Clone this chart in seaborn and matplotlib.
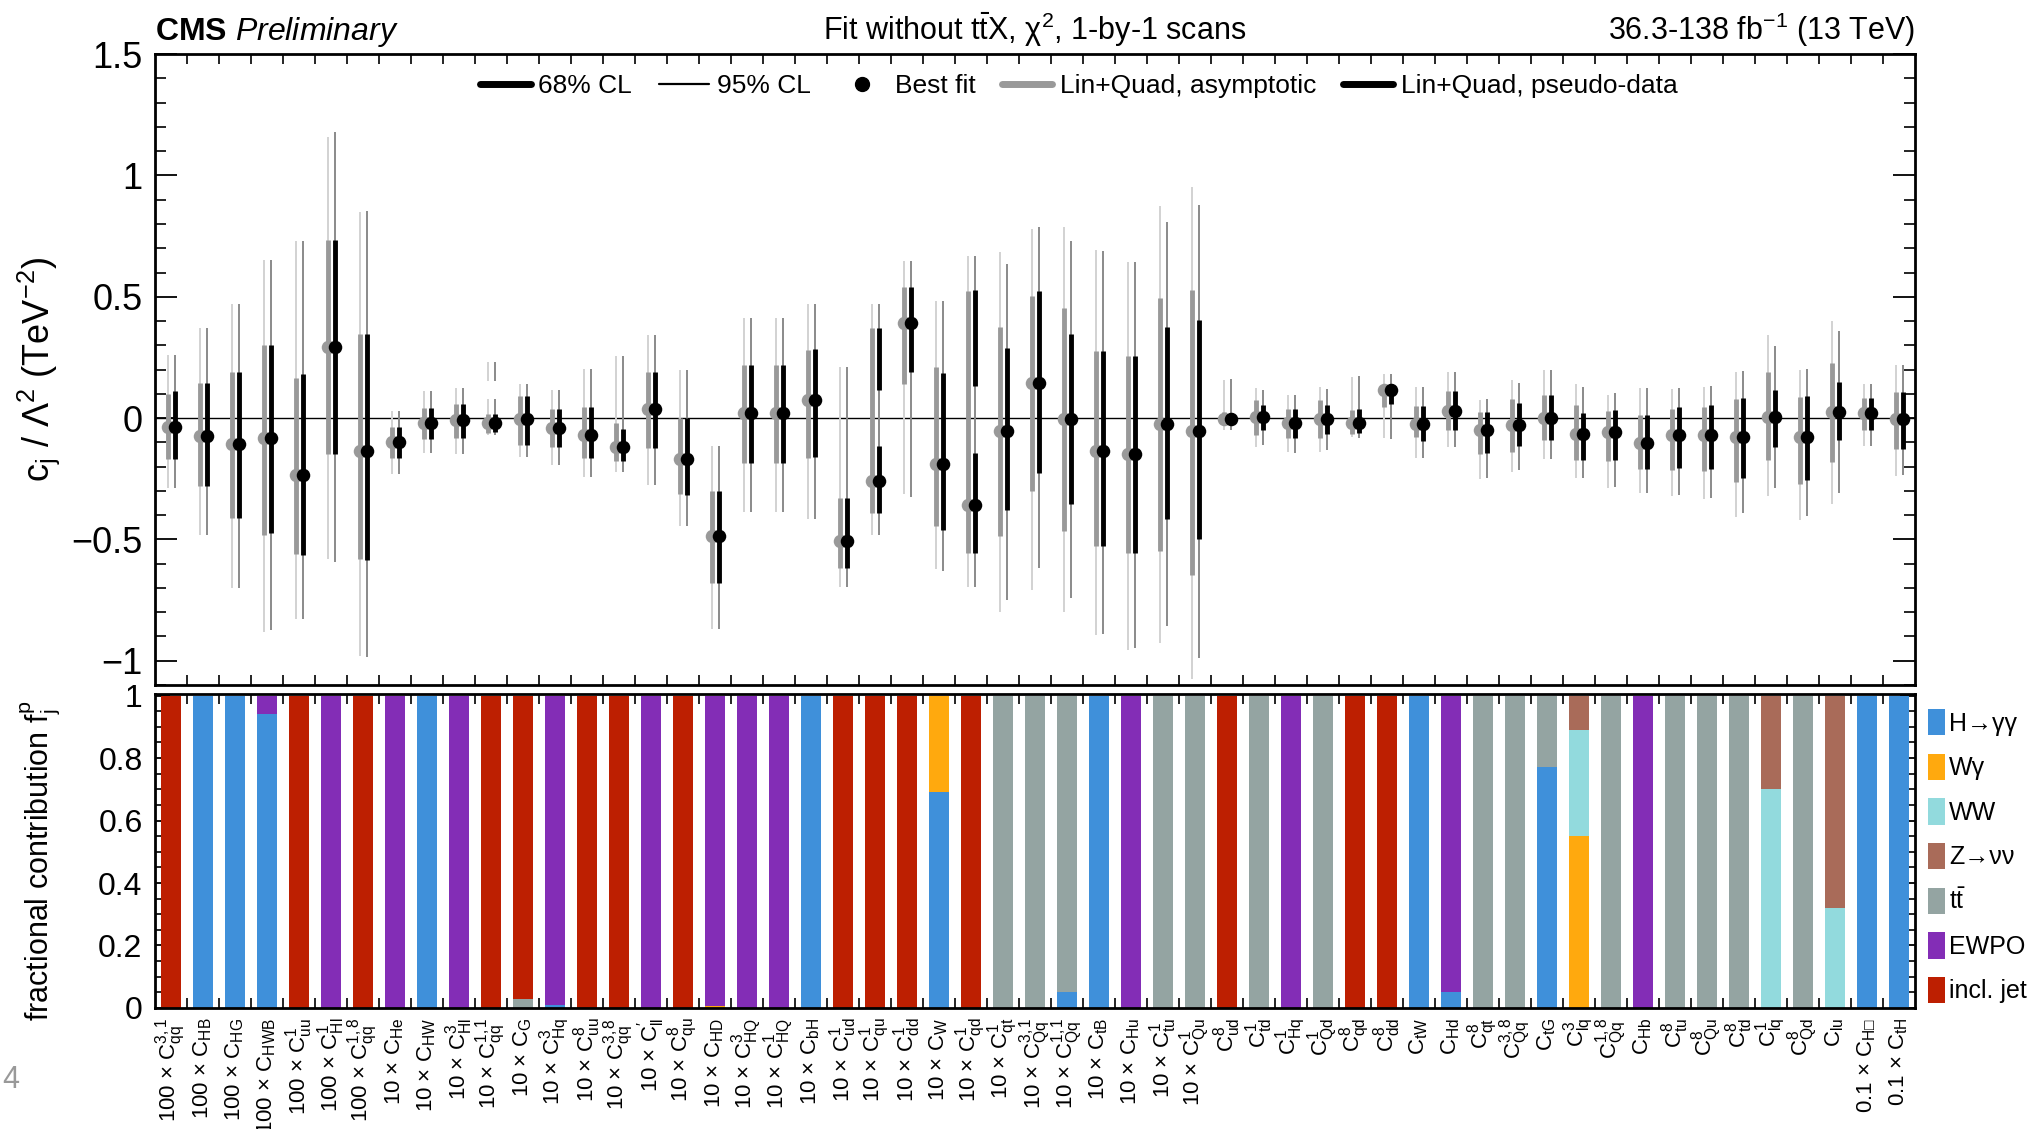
import numpy as np
import matplotlib
matplotlib.use("Agg")
import matplotlib.pyplot as plt
import matplotlib.ticker as mticker
from matplotlib.lines import Line2D
from matplotlib.patches import Patch
import seaborn as sns

# ==================== Data ==================== #
labels = [
    "100 × $C_{qq}^{3,1}$", "100 × $C_{HB}$", "100 × $C_{HG}$", "100 × $C_{HWB}$", "100 × $C_{uu}^{1}$",
    "100 × $C_{Hl}^{1}$", "100 × $C_{qq}^{1,8}$", "10 × $C_{He}$", "10 × $C_{HW}$", "10 × $C_{Hl}^{3}$",
    "10 × $C_{qq}^{1,1}$", "10 × $C_{G}$", "10 × $C_{Hq}^{3}$", "10 × $C_{uu}^{8}$", "10 × $C_{qq}^{3,8}$",
    "10 × $C_{ll}^{\\prime}$", "10 × $C_{qu}^{8}$", "10 × $C_{HD}$", "10 × $C_{HQ}^{3}$", "10 × $C_{HQ}^{1}$",
    "10 × $C_{bH}$", "10 × $C_{ud}^{1}$", "10 × $C_{qu}^{1}$", "10 × $C_{dd}^{1}$", "10 × $C_{W}$",
    "10 × $C_{qd}^{1}$", "10 × $C_{qt}^{1}$", "10 × $C_{Qq}^{3,1}$", "10 × $C_{Qq}^{1,1}$", "10 × $C_{tB}$",
    "10 × $C_{Hu}$", "10 × $C_{tu}^{1}$", "10 × $C_{Qu}^{1}$", "$C_{ud}^{8}$", "$C_{td}^{1}$",
    "$C_{Hq}^{1}$", "$C_{Qd}^{1}$", "$C_{qd}^{8}$", "$C_{dd}^{8}$", "$C_{tW}$",
    "$C_{Hd}$", "$C_{qt}^{8}$", "$C_{Qq}^{3,8}$", "$C_{tG}$", "$C_{lq}^{3}$",
    "$C_{Qq}^{1,8}$", "$C_{Hb}$", "$C_{tu}^{8}$", "$C_{Qu}^{8}$", "$C_{td}^{8}$",
    "$C_{lq}^{1}$", "$C_{Qd}^{8}$", "$C_{lu}$", "0.1 × $C_{H\u25a1}$", "0.1 × $C_{tH}$",
]

best_fit = [-0.035, -0.072, -0.107, -0.082, -0.236, 0.292, -0.135, -0.099, -0.02, -0.009,
            -0.02, -0.003, -0.039, -0.071, -0.118, 0.036, -0.168, -0.487, 0.019, 0.019,
            0.074, -0.506, -0.259, 0.393, -0.189, -0.357, -0.052, 0.145, -0.003, -0.134,
            -0.149, -0.024, -0.055, -0.003, 0.003, -0.02, -0.003, -0.02, 0.115, -0.024,
            0.031, -0.047, -0.028, 0.0, -0.066, -0.058, -0.102, -0.068, -0.071, -0.079,
            0.006, -0.079, 0.024, 0.019, -0.005]

# Lin+Quad, asymptotic
asym_68_lo = [-0.17, -0.28, -0.41, -0.48, -0.56, -0.15, -0.58, -0.165, -0.086, -0.08,
              -0.063, -0.11, -0.118, -0.165, -0.176, -0.123, -0.314, -0.679, -0.186, -0.186,
              -0.165, -0.616, -0.39, 0.142, -0.443, -0.558, -0.487, -0.302, -0.464, -0.527,
              -0.558, -0.546, -0.645, -0.025, -0.068, -0.082, -0.082, -0.066, 0.047, -0.079,
              -0.047, -0.149, -0.141, -0.091, -0.173, -0.176, -0.209, -0.212, -0.217, -0.263,
              -0.173, -0.272, -0.181, -0.047, -0.126]
asym_68_hi = [0.10, 0.145, 0.19, 0.30, 0.165, 0.735, 0.345, -0.035, 0.042, 0.058,
              0.016, 0.09, 0.039, 0.044, -0.019, 0.192, 0.0, -0.302, 0.22, 0.22,
              0.28, -0.33, 0.373, 0.539, 0.209, 0.524, 0.374, 0.503, 0.453, 0.275,
              0.256, 0.494, 0.53, 0.025, 0.075, 0.039, 0.074, 0.035, 0.138, 0.05,
              0.11, 0.024, 0.079, 0.097, 0.052, 0.031, 0.011, 0.039, 0.047, 0.079,
              0.189, 0.086, 0.228, 0.082, 0.107]
asym_95_lo = [-0.29, -0.48, -0.70, -0.88, -0.83, -0.58, -0.98, -0.23, -0.145, -0.15,
              -0.07, -0.16, -0.193, -0.244, -0.223, -0.275, -0.445, -0.868, -0.385, -0.385,
              -0.417, -0.697, -0.483, -0.314, -0.62, -0.695, -0.80, -0.71, -0.80, -0.893,
              -0.954, -0.925, -1.074, -0.047, -0.118, -0.141, -0.138, -0.079, -0.082, -0.165,
              -0.118, -0.252, -0.223, -0.17, -0.248, -0.288, -0.307, -0.322, -0.335, -0.406,
              -0.322, -0.42, -0.354, -0.115, -0.239]
asym_95_hi = [0.26, 0.37, 0.47, 0.65, 0.73, 1.16, 0.85, 0.03, 0.11, 0.126,
              0.08, 0.142, 0.115, 0.204, 0.255, 0.343, 0.2, -0.115, 0.412, 0.412,
              0.472, 0.209, 0.469, 0.648, 0.484, 0.668, 0.684, 0.778, 0.786, 0.692,
              0.645, 0.873, 0.951, 0.157, 0.126, 0.097, 0.13, 0.168, 0.181, 0.129,
              0.189, 0.075, 0.157, 0.2, 0.142, 0.097, 0.123, 0.118, 0.129, 0.189,
              0.343, 0.2, 0.4, 0.142, 0.22]

# Lin+Quad, pseudo-data
pd_68_lo = [-0.17, -0.28, -0.41, -0.475, -0.565, -0.15, -0.585, -0.165, -0.086, -0.08,
            -0.057, -0.11, -0.118, -0.165, -0.176, -0.123, -0.317, -0.679, -0.186, -0.186,
            -0.16, -0.616, -0.39, 0.192, -0.462, -0.558, -0.377, -0.225, -0.354, -0.527,
            -0.558, -0.414, -0.498, -0.025, -0.05, -0.082, -0.066, -0.06, 0.06, -0.094,
            -0.047, -0.145, -0.115, -0.091, -0.173, -0.173, -0.209, -0.204, -0.208, -0.248,
            -0.118, -0.255, -0.091, -0.047, -0.126]
pd_68_hi = [0.11, 0.145, 0.19, 0.30, 0.18, 0.735, 0.345, -0.035, 0.042, 0.058,
            0.016, 0.09, 0.039, 0.047, -0.044, 0.192, 0.0, -0.302, 0.22, 0.22,
            0.283, -0.33, -0.113, 0.542, 0.184, -0.145, 0.291, 0.522, 0.346, 0.275,
            0.256, 0.374, 0.404, 0.02, 0.055, 0.039, 0.055, 0.038, 0.142, 0.05,
            0.11, 0.024, 0.063, 0.097, 0.02, 0.034, 0.011, 0.047, 0.052, 0.083,
            0.115, 0.09, 0.149, 0.082, 0.107]
pd_95_lo = [-0.29, -0.48, -0.70, -0.875, -0.83, -0.595, -0.985, -0.23, -0.145, -0.15,
            -0.07, -0.16, -0.193, -0.244, -0.223, -0.275, -0.445, -0.868, -0.385, -0.385,
            -0.417, -0.697, -0.483, -0.327, -0.629, -0.695, -0.75, -0.616, -0.742, -0.888,
            -0.948, -0.857, -0.99, -0.047, -0.11, -0.144, -0.13, -0.082, -0.086, -0.165,
            -0.118, -0.248, -0.212, -0.17, -0.247, -0.283, -0.307, -0.318, -0.33, -0.393,
            -0.288, -0.404, -0.307, -0.115, -0.236]
pd_95_hi = [0.26, 0.37, 0.47, 0.65, 0.73, 1.18, 0.855, 0.03, 0.11, 0.126,
            0.08, 0.142, 0.115, 0.204, 0.255, 0.343, 0.2, -0.115, 0.412, 0.412,
            0.472, 0.209, 0.469, 0.648, 0.484, 0.668, 0.634, 0.786, 0.728, 0.687,
            0.645, 0.81, 0.877, 0.16, 0.115, 0.094, 0.121, 0.173, 0.181, 0.129,
            0.189, 0.079, 0.145, 0.2, 0.13, 0.102, 0.123, 0.126, 0.134, 0.193,
            0.299, 0.204, 0.357, 0.142, 0.22]

# disjoint pieces of some intervals: (index, lo, hi)
extra_95 = [(10, 0.152, 0.233)]
extra_pd_68 = [(22, 0.115, 0.373), (25, 0.134, 0.527)]

# fractional contributions per coefficient
hgg = [0, 1, 1, 0.94, 0, 0, 0, 0, 1, 0,
       0, 0, 0.01, 0, 0, 0, 0, 0, 0, 0,
       1, 0, 0, 0, 0.69, 0, 0, 0, 0.05, 1,
       0, 0, 0, 0, 0, 0, 0, 0, 0, 1,
       0.05, 0, 0, 0.77, 0, 0, 0, 0, 0, 0,
       0, 0, 0, 1, 1]
wgamma = [0, 0, 0, 0, 0, 0, 0, 0, 0, 0,
          0, 0, 0, 0, 0, 0, 0, 0.005, 0, 0,
          0, 0, 0, 0, 0.31, 0, 0, 0, 0, 0,
          0, 0, 0, 0, 0, 0, 0, 0, 0, 0,
          0, 0, 0, 0, 0.55, 0, 0, 0, 0, 0,
          0, 0, 0, 0, 0]
ww = [0, 0, 0, 0, 0, 0, 0, 0, 0, 0,
      0, 0, 0, 0, 0, 0, 0, 0, 0, 0,
      0, 0, 0, 0, 0, 0, 0, 0, 0, 0,
      0, 0, 0, 0, 0, 0, 0, 0, 0, 0,
      0, 0, 0, 0, 0.34, 0, 0, 0, 0, 0,
      0.70, 0, 0.32, 0, 0]
zvv = [0, 0, 0, 0, 0, 0, 0, 0, 0, 0,
       0, 0, 0, 0, 0, 0, 0, 0, 0, 0,
       0, 0, 0, 0, 0, 0, 0, 0, 0, 0,
       0, 0, 0, 0, 0, 0, 0, 0, 0, 0,
       0, 0, 0, 0, 0.11, 0, 0, 0, 0, 0,
       0.30, 0, 0.68, 0, 0]
ttbar = [0, 0, 0, 0, 0, 0, 0, 0, 0, 0,
         0, 0.03, 0, 0, 0, 0, 0, 0, 0, 0,
         0, 0, 0, 0, 0, 0, 1, 1, 0.95, 0,
         0, 1, 1, 0, 1, 0, 1, 0, 0, 0,
         0, 1, 1, 0.23, 0, 1, 0, 1, 1, 1,
         0, 1, 0, 0, 0]
ewpo = [0, 0, 0, 0.06, 0, 1, 0, 1, 0, 1,
        0, 0, 0.99, 0, 0, 1, 0, 0.995, 1, 1,
        0, 0, 0, 0, 0, 0, 0, 0, 0, 0,
        1, 0, 0, 0, 0, 1, 0, 0, 0, 0,
        0.95, 0, 0, 0, 0, 0, 1, 0, 0, 0,
        0, 0, 0, 0, 0]
incl_jet = [1, 0, 0, 0, 1, 0, 1, 0, 0, 0,
            1, 0.97, 0, 1, 1, 0, 1, 0, 0, 0,
            0, 1, 1, 1, 0, 1, 0, 0, 0, 0,
            0, 0, 0, 1, 0, 0, 0, 1, 1, 0,
            0, 0, 0, 0, 0, 0, 0, 0, 0, 0,
            0, 0, 0, 0, 0]

process_names = ["H→γγ", "Wγ", "WW", "Z→νν", r"$t\bar{t}$", "EWPO", "incl. jet"]
process_colors = ["#3f90da", "#ffa90e", "#92dadd", "#a96b59", "#94a4a2", "#832db6", "#bd1f01"]
fractions = [hgg, wgamma, ww, zvv, ttbar, ewpo, incl_jet]

# ==================== Style ==================== #
sns.set_theme(style="ticks")
plt.rcParams["font.family"] = ["Liberation Sans", "DejaVu Sans"]
plt.rcParams.update({
    "mathtext.fontset": "custom",
    "mathtext.rm": "Liberation Sans",
    "mathtext.it": "Liberation Sans:italic",
    "mathtext.bf": "Liberation Sans:bold",
    "mathtext.sf": "Liberation Sans",
    "mathtext.default": "regular",
    "mathtext.fallback": "stix",
    "axes.linewidth": 2.0,
    "axes.edgecolor": "black",
    "text.color": "black",
    "axes.labelcolor": "black",
    "xtick.color": "black",
    "ytick.color": "black",
})

fig = plt.figure(figsize=(20.27, 11.29), dpi=100)
ax1 = fig.add_axes([0.0765, 0.3933, 0.8683, 0.5587])
ax2 = fig.add_axes([0.0765, 0.1072, 0.8683, 0.2781])

pos = np.arange(len(labels))
off = 0.11

# ==================== Upper panel ==================== #
ax1.axhline(0, color="black", lw=1.0, zorder=1)
ax1.vlines(pos - off, asym_95_lo, asym_95_hi, color="#d2d2d2", lw=1.4, zorder=2)
ax1.vlines(pos - off, asym_68_lo, asym_68_hi, color="#999999", lw=3.5, zorder=3)
sns.scatterplot(x=pos - off, y=best_fit, color="#999999", s=95, linewidth=0, ax=ax1, zorder=4)
ax1.vlines(pos + off, pd_95_lo, pd_95_hi, color="#8a8a8a", lw=1.4, zorder=5)
ax1.vlines(pos + off, pd_68_lo, pd_68_hi, color="black", lw=3.5, zorder=6)
for i, lo, hi in extra_95:
    ax1.vlines(pos[i] - off, lo, hi, color="#d2d2d2", lw=1.4, zorder=2)
    ax1.vlines(pos[i] + off, lo, hi, color="#8a8a8a", lw=1.4, zorder=5)
for i, lo, hi in extra_pd_68:
    ax1.vlines(pos[i] + off, lo, hi, color="black", lw=3.5, zorder=6)
sns.scatterplot(x=pos + off, y=best_fit, color="black", s=95, linewidth=0, ax=ax1, zorder=7)

ax1.set_xlim(-0.5, len(labels) - 0.5)
ax1.set_ylim(-1.1, 1.5)
ax1.set_xticks(np.arange(0.5, len(labels) - 0.5, 1))
ax1.set_xticklabels([])
ax1.set_yticks([-1, -0.5, 0, 0.5, 1, 1.5])
ax1.set_yticklabels(["\u22121", "\u22120.5", "0", "0.5", "1", "1.5"])
ax1.yaxis.set_minor_locator(mticker.MultipleLocator(0.1))
ax1.tick_params(axis="x", direction="in", length=7, width=1.2, top=True, bottom=True, labelbottom=False)
ax1.tick_params(axis="y", which="major", direction="in", length=16, width=1.3, left=True, right=True,
                labelsize=26, pad=9)
ax1.tick_params(axis="y", which="minor", direction="in", length=8, width=1.2, left=True, right=True)
ax1.set_xlabel("")
ax1.set_ylabel("c$_j$ / Λ$^2$ (TeV$^{-2}$)", fontsize=26)
ax1.yaxis.set_label_coords(-0.053, 0.5)

leg_handles = [
    Line2D([], [], color="black", lw=5),
    Line2D([], [], color="black", lw=1.6),
    Line2D([], [], color="black", marker="o", markersize=10, linestyle="none"),
    Line2D([], [], color="#999999", lw=5),
    Line2D([], [], color="black", lw=5),
]
leg_labels = ["68% CL", "95% CL", "Best fit", "Lin+Quad, asymptotic", "Lin+Quad, pseudo-data"]
ax1.legend(leg_handles, leg_labels, ncol=5, loc="center", bbox_to_anchor=(0.525, 0.949),
           frameon=False, fontsize=19, handlelength=1.9, handletextpad=0.3, columnspacing=1.0)

# ==================== Lower panel ==================== #
cum = np.cumsum(np.array(fractions, dtype=float), axis=0)
for k in reversed(range(len(fractions))):
    sns.barplot(x=pos, y=cum[k], color=process_colors[k], width=0.64, native_scale=True,
                orient="x", errorbar=None, saturation=1, linewidth=0, ax=ax2)

ax2.set_xlim(-0.5, len(labels) - 0.5)
ax2.set_ylim(0, 1.005)
ax2.set_xticks(pos)
ax2.set_xticklabels(labels, rotation=90, fontsize=16)
ax2.set_xticks(np.arange(0.5, len(labels) - 0.5, 1), minor=True)
ax2.set_yticks([0, 0.2, 0.4, 0.6, 0.8, 1])
ax2.set_yticklabels(["0", "0.2", "0.4", "0.6", "0.8", "1"])
ax2.yaxis.set_minor_locator(mticker.MultipleLocator(0.05))
ax2.tick_params(axis="x", which="major", length=0, pad=7)
ax2.tick_params(axis="x", which="minor", direction="in", length=7, width=1.2, top=True, bottom=True)
ax2.tick_params(axis="y", which="major", direction="in", length=11, width=1.3, left=True, right=True,
                labelsize=23, pad=9)
ax2.tick_params(axis="y", which="minor", direction="in", length=6, width=1.2, left=True, right=True)
ax2.set_xlabel("")
ax2.set_ylabel("fractional contribution f$_j^p$", fontsize=22)
ax2.yaxis.set_label_coords(-0.053, 0.47)

patches = [Patch(facecolor=c, edgecolor="none", label=n) for n, c in zip(process_names, process_colors)]
fig.legend(handles=patches, loc="upper left", bbox_to_anchor=(1928 / 2027, 1 - 709 / 1129),
           frameon=False, fontsize=18, handlelength=0.68, handleheight=1.25, handletextpad=0.15,
           labelspacing=0.72, borderpad=0, borderaxespad=0)

# ==================== Header ==================== #
fig.text(0.0765, 0.9648, r"$\mathbf{CMS}$ $\mathit{Preliminary}$", ha="left", va="baseline", fontsize=23)
fig.text(0.5106, 0.9648, r"Fit without $t\bar{t}$X, $\chi^2$, 1-by-1 scans", ha="center", va="baseline",
         fontsize=22)
fig.text(0.9448, 0.9648, "36.3-138 fb$^{-1}$ (13 TeV)", ha="right", va="baseline", fontsize=22)
fig.text(0.001, 0.043, "4", ha="left", va="center", fontsize=22, color="#999999")

fig.savefig("out.png", dpi=100)
